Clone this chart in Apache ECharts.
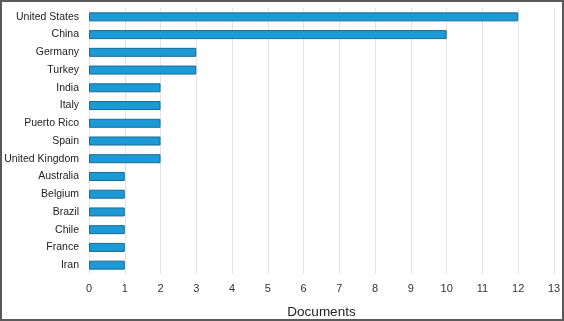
<!DOCTYPE html>
<html>
<head>
<meta charset="utf-8">
<script src="https://cdn.jsdelivr.net/npm/echarts@6/dist/echarts.min.js"></script>
<style>
html,body{margin:0;padding:0;background:#fff;}
#wrap{width:564px;height:321px;box-sizing:border-box;border:2px solid #5a5a5a;position:relative;}
#chart{position:absolute;left:-2px;top:-2px;width:564px;height:321px;}
</style>
</head>
<body>
<div id="wrap"><div id="chart"></div></div>
<script>
const countries = ["United States","China","Germany","Turkey","India","Italy","Puerto Rico","Spain","United Kingdom","Australia","Belgium","Brazil","Chile","France","Iran"];
const documents = [12,10,3,3,2,2,2,2,2,1,1,1,1,1,1];
const xTicks = [0,1,2,3,4,5,6,7,8,9,10,11,12,13];

const FONT = '"Liberation Sans", Arial, sans-serif';
const chart = echarts.init(document.getElementById('chart'), null, {renderer:'canvas'});
chart.setOption({
  animation:false,
  grid:{left:89,right:10,top:8,bottom:47,containLabel:false,outerBoundsMode:'none'},
  xAxis:{
    type:'value',min:xTicks[0],max:xTicks[xTicks.length-1],interval:1,
    name:'Documents',nameLocation:'middle',nameGap:31,
    nameTextStyle:{fontFamily:FONT,fontSize:13.5,color:'#222'},
    axisLine:{show:false},axisTick:{show:false},
    axisLabel:{fontFamily:FONT,fontSize:11,color:'#333',margin:9},
    splitLine:{show:true,lineStyle:{color:'#e4e4e4',width:1}}
  },
  yAxis:{
    type:'category',data:countries,inverse:true,
    axisLine:{show:false},axisTick:{show:false},
    axisLabel:{fontFamily:FONT,fontSize:10.5,color:'#222',margin:10},
    splitLine:{show:false}
  },
  series:[{
    type:'bar',data:documents,barWidth:9,
    itemStyle:{color:'#1b9ad6',borderColor:'#1a6a94',borderWidth:1}
  }]
});
</script>
</body>
</html>
